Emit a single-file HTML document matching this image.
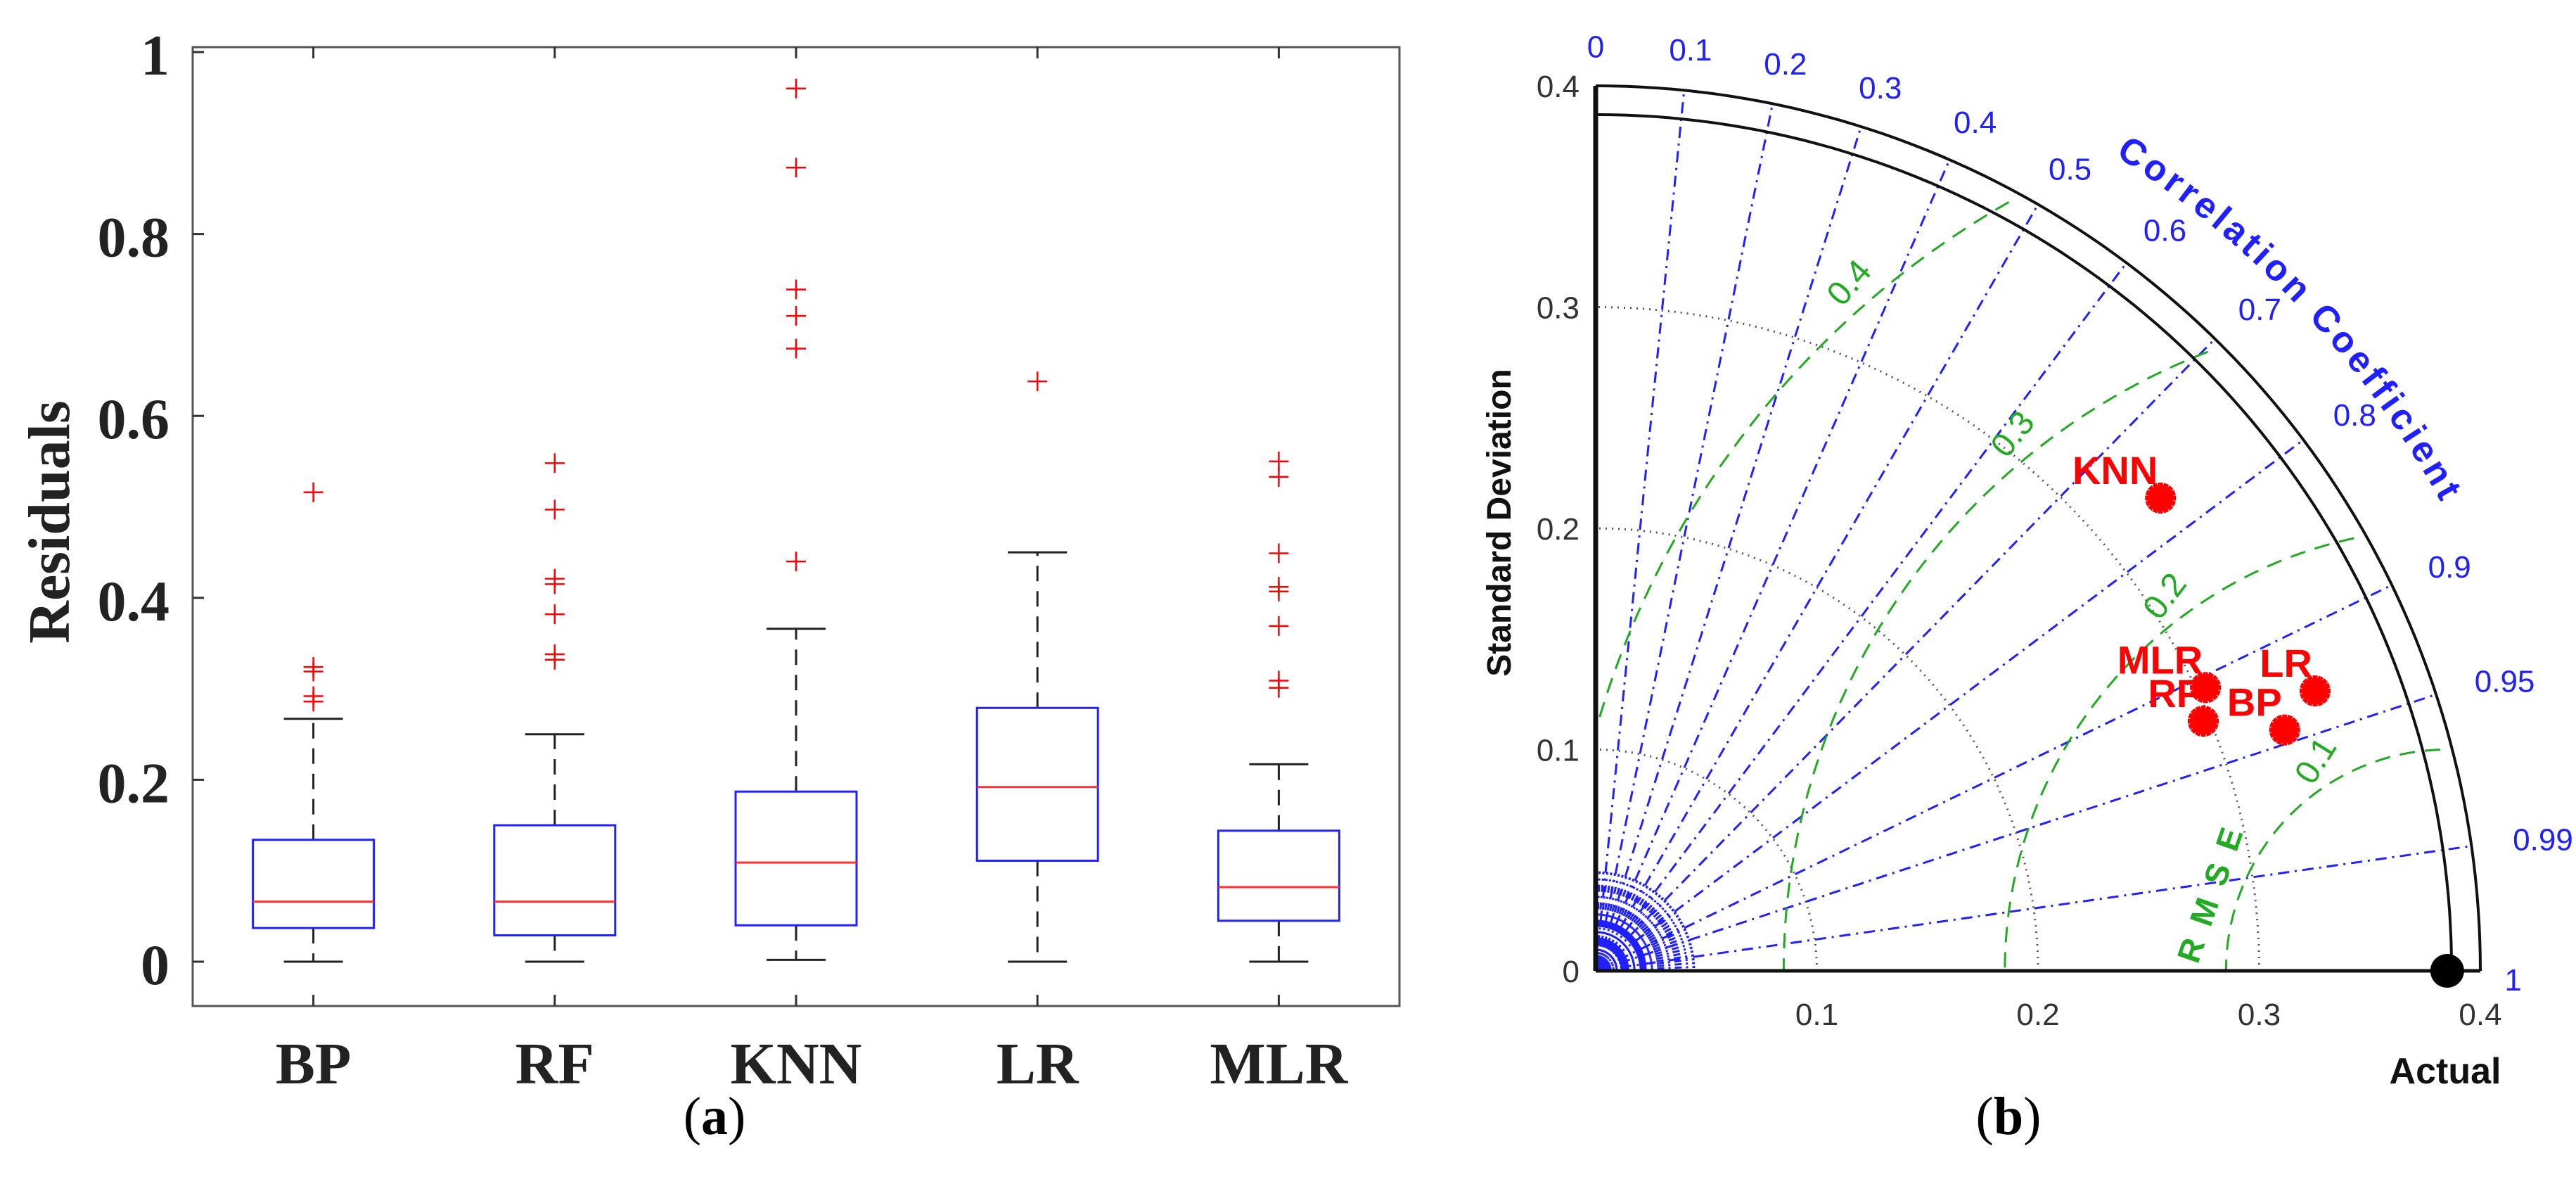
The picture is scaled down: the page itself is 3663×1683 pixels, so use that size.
<!DOCTYPE html>
<html><head><meta charset="utf-8"><style>
html,body{margin:0;padding:0;background:#fff;}
svg{display:block;}
</style></head><body>
<svg id="fig" xmlns="http://www.w3.org/2000/svg" width="3663" height="1683" viewBox="0 0 3663 1683">
<rect width="3663" height="1683" fill="#fff"/>
<g id="boxplot"></g>
<g id="taylor"></g>
<text x="1016" y="1612" font-family="Liberation Serif, serif" font-size="76" text-anchor="middle">(<tspan font-weight="bold">a</tspan>)</text>
<text x="2856" y="1612" font-family="Liberation Serif, serif" font-size="76" text-anchor="middle">(<tspan font-weight="bold">b</tspan>)</text>
</svg>
<script>
const NS="http://www.w3.org/2000/svg";
// ---------- Boxplot data ----------
const categories=["BP","RF","KNN","LR","MLR"];
const q1=[0.037,0.029,0.040,0.111,0.045];
const medians=[0.066,0.066,0.109,0.192,0.082];
const q3=[0.134,0.150,0.187,0.279,0.144];
const whiskLow=[0,0,0.002,0,0];
const whiskHigh=[0.267,0.250,0.366,0.450,0.217];
const outliers=[[0.516,0.324,0.319,0.292,0.286],[0.548,0.497,0.421,0.415,0.382,0.338,0.332],[0.960,0.873,0.739,0.710,0.674,0.440],[0.638],[0.550,0.533,0.449,0.412,0.407,0.369,0.309,0.301]];
const yTicks=[0,0.2,0.4,0.6,0.8,1];
const yTickLabels=["0","0.2","0.4","0.6","0.8","1"];
// ---------- Taylor data ----------
const models=["BP","RF","KNN","LR","MLR"];
const modelStd=[0.330,0.297,0.333,0.349,0.304];
const modelCorr=[0.944,0.925,0.767,0.932,0.907];
const refStd=0.385;
const corrTicks=[0.1,0.2,0.3,0.4,0.5,0.6,0.7,0.8,0.9,0.95,0.99];
const corrTickLabels=["0.1","0.2","0.3","0.4","0.5","0.6","0.7","0.8","0.9","0.95","0.99"];
const stdTicks=[0,0.1,0.2,0.3,0.4];
const stdTickLabels=["0","0.1","0.2","0.3","0.4"];
const rmseLevels=[0.1,0.2,0.3,0.4];
const rmseLabelAngles=[122,127,129,131];

function el(tag,attrs,parent,txt){const e=document.createElementNS(NS,tag);for(const k in attrs)e.setAttribute(k,attrs[k]);if(txt!==undefined)e.textContent=txt;parent.appendChild(e);return e;}

// ---------- Boxplot ----------
(function(){
const g=document.getElementById('boxplot');
const L=274,R=1990,T=67,B=1430;
const y=v=>1367-v*1293;
const x=i=>L+(R-L)*(i+0.5)/categories.length;
const ax=el('rect',{x:L,y:T,width:R-L,height:B-T,fill:'none',stroke:'#555','stroke-width':3},g);

yTicks.forEach((v,i)=>{
  const t=el('line',{x1:L,x2:L+16,y1:y(v),y2:y(v),stroke:'#333','stroke-width':3},g);
  
  const lb=el('text',{x:241,y:y(v)+32,'text-anchor':'end','font-family':'Liberation Serif, serif','font-weight':'bold','font-size':82,fill:'#222'},g,yTickLabels[i]);
  
});
const yt=el('text',{x:0,y:0,transform:'translate(98,742) rotate(-90)','text-anchor':'middle','font-family':'Liberation Serif, serif','font-weight':'bold','font-size':84,fill:'#222'},g,'Residuals');

categories.forEach((c,i)=>{
  const cx=x(i);
  let t=el('line',{x1:cx,x2:cx,y1:T,y2:T+16,stroke:'#333','stroke-width':3},g);
  
  t=el('line',{x1:cx,x2:cx,y1:B,y2:B-16,stroke:'#333','stroke-width':3},g);
  
  const lb=el('text',{x:cx,y:1540,'text-anchor':'middle','font-family':'Liberation Serif, serif','font-weight':'bold','font-size':84,fill:'#222'},g,c);
  
  const bg=el('g',{},g);
  
  const wd={stroke:'#222','stroke-width':3,'stroke-dasharray':'22 14'};
  el('line',Object.assign({x1:cx,x2:cx,y1:y(q3[i]),y2:y(whiskHigh[i])},wd),bg);
  el('line',Object.assign({x1:cx,x2:cx,y1:y(q1[i]),y2:y(whiskLow[i])},wd),bg);
  el('line',{x1:cx-42,x2:cx+42,y1:y(whiskHigh[i]),y2:y(whiskHigh[i]),stroke:'#222','stroke-width':3},bg);
  el('line',{x1:cx-42,x2:cx+42,y1:y(whiskLow[i]),y2:y(whiskLow[i]),stroke:'#222','stroke-width':3},bg);
  el('rect',{x:cx-86,y:y(q3[i]),width:172,height:y(q1[i])-y(q3[i]),fill:'none',stroke:'#2222ff','stroke-width':3},bg);
  el('line',{x1:cx-86,x2:cx+86,y1:y(medians[i]),y2:y(medians[i]),stroke:'#ff3030','stroke-width':3},bg);
  outliers[i].forEach(v=>{
    const o=el('path',{d:`M${cx-14},${y(v)}H${cx+14}M${cx},${y(v)-14}V${y(v)+14}`,stroke:'#ff0000','stroke-width':2.5,fill:'none'},g);
    
  });
});
})();

// ---------- Taylor diagram ----------
(function(){
const g=document.getElementById('taylor');
const OX=2269,OY=1380,S=3145,RMAX=0.4;
const px=(xx,yy)=>[OX+xx*S,OY-yy*S];
const polar=(r,th)=>px(r*Math.cos(th),r*Math.sin(th));
const arcPath=(r,a0,a1)=>{let d='';for(let k=0;k<=90;k++){const th=a0+(a1-a0)*k/90;const p=polar(r,th);d+=(k?'L':'M')+p[0].toFixed(1)+','+p[1].toFixed(1);}return d;};
// std dotted arcs
[0.1,0.2,0.3].forEach(r=>{const a=el('path',{d:arcPath(r,0,Math.PI/2),fill:'none',stroke:'#555','stroke-width':3,'stroke-dasharray':'2 7'},g);});
// dense short lines near origin
for(let k=1;k<40;k++){const th=k*Math.PI/80;const p=polar(0.045,th);const q=polar(0.004,th);
  const l=el('line',{x1:q[0],y1:q[1],x2:p[0],y2:p[1],stroke:'#2020ff','stroke-width':3,'stroke-dasharray':'10 6 3 6'},g);
  }
[0.012,0.022].forEach(r=>{const a=el('path',{d:arcPath(r,0,Math.PI/2),fill:'none',stroke:'#2020ff','stroke-width':4},g);});
corrTicks.forEach((c,i)=>{
  const th=Math.acos(c);const p=polar(RMAX,th);
  const l=el('line',{x1:OX,y1:OY,x2:p[0],y2:p[1],stroke:'#2020ff','stroke-width':3,'stroke-dasharray':'16 8 3 8'},g);
  
  const w=corrTickLabels[i].length*23;
  const q=polar(0.418,th);
  const t=el('text',{x:q[0]+w/2*Math.cos(th),y:q[1]+14,'text-anchor':'middle','font-family':'Liberation Sans, sans-serif','font-size':44,fill:'#2020ff'},g,corrTickLabels[i]);
  
});
let t0=el('text',{x:OX,y:OY-0.418*S+16,'text-anchor':'middle','font-family':'Liberation Sans, sans-serif','font-size':44,fill:'#2020ff'},g,'0');

t0=el('text',{x:OX+0.418*S-10,y:OY+28,'text-anchor':'middle','font-family':'Liberation Sans, sans-serif','font-size':44,fill:'#2020ff'},g,'1');

// RMSE arcs
rmseLevels.forEach((k,i)=>{
  let d='',on=false;
  for(let s=0;s<=400;s++){const ph=Math.PI*s/400;const xx=refStd+k*Math.cos(ph),yy=k*Math.sin(ph);
    if(Math.hypot(xx,yy)<=0.395&&xx>=0){const p=px(xx,yy);d+=(on?'L':'M')+p[0].toFixed(1)+','+p[1].toFixed(1);on=true;}else on=false;}
  const a=el('path',{d:d,fill:'none',stroke:'#22aa22','stroke-width':3,'stroke-dasharray':'22 14'},g);
  
  const ph=rmseLabelAngles[i]*Math.PI/180;const p=px(refStd+(k+0.012)*Math.cos(ph),(k+0.012)*Math.sin(ph));
  const t=el('text',{x:0,y:0,transform:`translate(${p[0]},${p[1]}) rotate(${rmseLabelAngles[i]-180})`,'text-anchor':'middle','dominant-baseline':'central','font-family':'Liberation Sans, sans-serif','font-size':48,fill:'#22aa22'},g,String(k));
  
});
const rm=el('text',{x:0,y:0,transform:'translate(3146,1262) rotate(-71)','text-anchor':'middle','dominant-baseline':'central','font-family':'Liberation Sans, sans-serif','font-weight':'bold','font-size':46,'letter-spacing':22,fill:'#22aa22'},g,'RMSE');

// arcs
let a=el('path',{d:arcPath(RMAX,0,Math.PI/2),fill:'none',stroke:'#111','stroke-width':4},g);
a=el('path',{d:arcPath(refStd+0.002,0,Math.PI/2),fill:'none',stroke:'#111','stroke-width':4},g);
// axes
let ln=el('line',{x1:OX,y1:OY,x2:OX,y2:OY-RMAX*S,stroke:'#111','stroke-width':7},g);
ln=el('line',{x1:OX,y1:OY,x2:OX+RMAX*S,y2:OY,stroke:'#111','stroke-width':5},g);
stdTicks.forEach((v,i)=>{
  let t=el('text',{x:2246,y:OY-v*S+16,'text-anchor':'end','font-family':'Liberation Sans, sans-serif','font-size':44,fill:'#333'},g,stdTickLabels[i]);
  
  if(v>0){t=el('text',{x:OX+v*S,y:1457,'text-anchor':'middle','font-family':'Liberation Sans, sans-serif','font-size':44,fill:'#333'},g,stdTickLabels[i]);
  }
});
let tt=el('text',{x:0,y:0,transform:'translate(2148,743) rotate(-90)','text-anchor':'middle','font-family':'Liberation Sans, sans-serif','font-weight':'bold','font-size':48,fill:'#111'},g,'Standard Deviation');

tt=el('text',{x:3477,y:1540,'text-anchor':'middle','font-family':'Liberation Sans, sans-serif','font-weight':'bold','font-size':52,fill:'#111'},g,'Actual');

// curved title
const defs=el('defs',{},g);
const r0=0.437*S,a0=57.5*Math.PI/180,a1=29*Math.PI/180;
el('path',{id:'ccarc',d:`M${OX+r0*Math.cos(a0)},${OY-r0*Math.sin(a0)} A${r0},${r0} 0 0 1 ${OX+r0*Math.cos(a1)},${OY-r0*Math.sin(a1)}`},defs);
const ct=el('text',{'font-family':'Liberation Sans, sans-serif','font-weight':'bold','font-size':52,fill:'#2020ff'},g);

el('textPath',{href:'#ccarc',textLength:String(r0*(a0-a1)),lengthAdjust:'spacing'},ct,'Correlation Coefficient');
// reference point
const rp=px(refStd,0);
const rc=el('circle',{cx:rp[0],cy:rp[1],r:24,fill:'#000'},g);
// model points
models.forEach((m,i)=>{
  const th=Math.acos(modelCorr[i]);const p=polar(modelStd[i],th);
  const mg=el('g',{},g);
  el('circle',{cx:p[0],cy:p[1],r:17,fill:'#ff0000'},mg);
  for(let k=0;k<8;k++){const an=k*Math.PI/8;el('line',{x1:p[0]-22*Math.cos(an),y1:p[1]-22*Math.sin(an),x2:p[0]+22*Math.cos(an),y2:p[1]+22*Math.sin(an),stroke:'#ff0000','stroke-width':7},mg);}
  const lb=el('text',{x:p[0]-4,y:p[1]-20,'text-anchor':'end','font-family':'Liberation Sans, sans-serif','font-weight':'bold','font-size':56,fill:'#ff0000'},g,m);
  
});
})();
</script>
</body></html>
